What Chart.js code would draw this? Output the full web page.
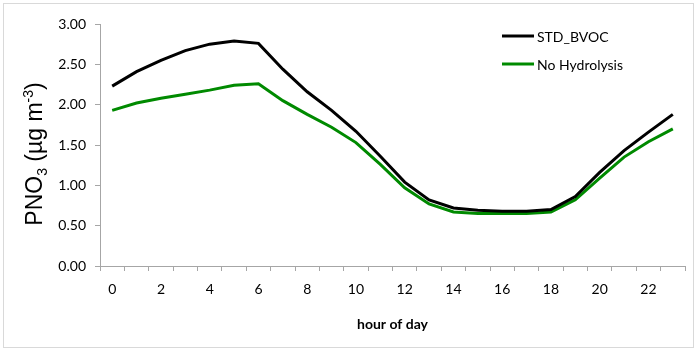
<!DOCTYPE html>
<html>
<head>
<meta charset="utf-8">
<script src="https://cdn.jsdelivr.net/npm/chart.js@4/dist/chart.umd.min.js"></script>
<style>
  html, body { margin: 0; padding: 0; background: #fff; }
  #wrap { width: 697px; height: 351px; }
</style>
</head>
<body>
<div id="wrap"><canvas id="grafik" width="697" height="351"></canvas></div>
<script>
// data
const jam = ["0","1","2","3","4","5","6","7","8","9","10","11","12","13","14","15","16","17","18","19","20","21","22","23"];
const stdBvoc = [2.23, 2.41, 2.55, 2.67, 2.75, 2.79, 2.76, 2.44, 2.16, 1.93, 1.67, 1.36, 1.04, 0.82, 0.72, 0.69, 0.68, 0.68, 0.70, 0.86, 1.16, 1.43, 1.66, 1.88];
const noHydrolysis = [1.93, 2.02, 2.08, 2.13, 2.18, 2.24, 2.26, 2.05, 1.88, 1.72, 1.53, 1.26, 0.97, 0.77, 0.67, 0.65, 0.65, 0.65, 0.67, 0.82, 1.09, 1.35, 1.54, 1.70];
const labelSeri = ["STD_BVOC", "No Hydrolysis"];
const warnaSeri = ["#000000", "#008a00"];

const abuSumbu = "#a6a6a6";
const hurufAngka = "Lato, 'Open Sans', sans-serif";

// legenda di dalam area plot, kanan atas
const legendaDalam = {
  id: "legendaDalam",
  afterDraw(chart) {
    const ctx = chart.ctx;
    ctx.save();
    ctx.font = "14px " + hurufAngka;
    ctx.textBaseline = "middle";
    chart.data.datasets.forEach((ds, i) => {
      const y = 36 + i * 28;
      ctx.strokeStyle = ds.borderColor;
      ctx.lineWidth = 3;
      ctx.beginPath();
      ctx.moveTo(502, y);
      ctx.lineTo(534, y);
      ctx.stroke();
      ctx.fillStyle = "#000";
      ctx.fillText(ds.label, 537, y + 1);
    });
    ctx.restore();
  },
};

// judul sumbu Y dengan subskrip & superskrip, plus bingkai
const judulY = {
  id: "judulY",
  afterDraw(chart) {
    const ctx = chart.ctx;
    ctx.save();
    ctx.strokeStyle = "#d9d9d9";
    ctx.lineWidth = 1;
    ctx.strokeRect(3.5, 3.5, 690, 344);

    const bagian = [
      { t: "PNO", s: 23, dy: 0 },
      { t: "3", s: 14, dy: 5 },
      { t: " (\u00b5g m", s: 23, dy: 0 },
      { t: "-3", s: 14, dy: -9 },
      { t: ")", s: 23, dy: 0 },
    ];
    const font = (s) => s + "px 'Liberation Sans', Arial, sans-serif";
    let total = 0;
    bagian.forEach((b) => { ctx.font = font(b.s); b.w = ctx.measureText(b.t).width; total += b.w; });
    ctx.translate(42, 154);
    ctx.rotate(-Math.PI / 2);
    ctx.fillStyle = "#000";
    ctx.textBaseline = "alphabetic";
    let x = -total / 2;
    bagian.forEach((b) => {
      ctx.font = font(b.s);
      ctx.fillText(b.t, x, b.dy);
      x += b.w;
    });
    ctx.restore();
  },
};

new Chart(document.getElementById("grafik"), {
  type: "line",
  data: {
    labels: jam,
    datasets: [
      { label: labelSeri[0], data: stdBvoc, borderColor: warnaSeri[0], borderWidth: 3, pointRadius: 0, tension: 0 },
      { label: labelSeri[1], data: noHydrolysis, borderColor: warnaSeri[1], borderWidth: 3, pointRadius: 0, tension: 0 },
    ],
  },
  options: {
    responsive: false,
    animation: false,
    events: [],
    layout: { padding: { left: 0, right: 12, top: 24, bottom: 0 } },
    plugins: { legend: { display: false }, tooltip: { enabled: false } },
    scales: {
      x: {
        offset: true,
        grid: { offset: true, drawOnChartArea: false, tickLength: 5, color: abuSumbu },
        border: { color: abuSumbu },
        ticks: {
          autoSkip: false,
          maxRotation: 0,
          padding: 10,
          color: "#000",
          font: { family: hurufAngka, size: 14 },
          callback: (v, i) => (i % 2 === 0 ? jam[i] : ""),
        },
        title: {
          display: true,
          text: "hour of day",
          color: "#000",
          font: { family: hurufAngka, size: 14, weight: "bold" },
          padding: { top: 4, bottom: 18 },
        },
        afterFit: (s) => { s.height = 85; },
      },
      y: {
        min: 0,
        max: 3,
        grid: { drawOnChartArea: false, tickLength: 5, color: abuSumbu },
        border: { color: abuSumbu },
        ticks: {
          stepSize: 0.5,
          padding: 9,
          color: "#000",
          font: { family: hurufAngka, size: 14 },
          callback: (v) => v.toFixed(2),
        },
        afterFit: (s) => { s.width = 100; },
      },
    },
  },
  plugins: [legendaDalam, judulY],
});
</script>
</body>
</html>
